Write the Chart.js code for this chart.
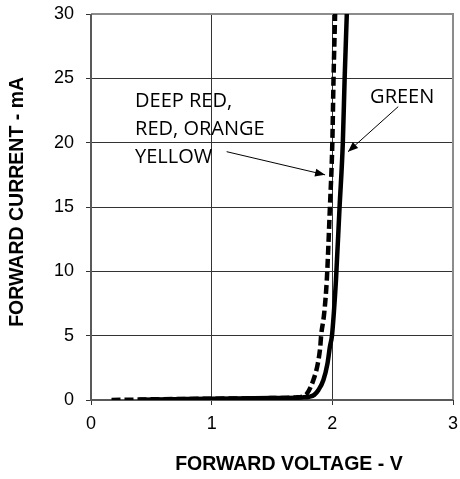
<!DOCTYPE html>
<html>
<head>
<meta charset="utf-8">
<script src="https://cdn.jsdelivr.net/npm/chart.js@4.4.1/dist/chart.umd.min.js"></script>
<style>
  html,body{margin:0;padding:0;background:#fff;}
  #wrap{width:460px;height:479px;position:relative;}
</style>
</head>
<body>
<div id="wrap"><canvas id="c" width="460" height="479"></canvas></div>
<script>
// Forward voltage (V) / forward current (mA)
const greenV = [0.4, 0.7, 1.0, 1.5, 1.75, 1.81, 1.85, 1.885, 1.926, 1.96, 1.98, 1.997, 2.012, 2.03, 2.06, 2.087, 2.102, 2.12];
const greenI = [0.02, 0.06, 0.1, 0.15, 0.2, 0.25, 0.4, 0.78, 1.55, 2.85, 4.14, 5.0, 6.7, 9.3, 15, 20, 25, 30];
const redV   = [0.17, 0.5, 1.0, 1.5, 1.7, 1.76, 1.79, 1.843, 1.88, 1.9, 1.907, 1.932, 1.954, 1.98, 2.0, 2.01, 2.023];
const redI   = [0.0, 0.05, 0.1, 0.15, 0.2, 0.3, 0.5, 1.55, 2.85, 4.14, 5.0, 6.7, 9.3, 15, 20, 25, 30];
const xTicks = [0, 1, 2, 3];
const yTicks = [0, 5, 10, 15, 20, 25, 30];
const xTitle = 'FORWARD VOLTAGE - V';
const yTitle = 'FORWARD CURRENT - mA';
const redLabel = ['DEEP RED,', 'RED, ORANGE', 'YELLOW'];
const greenLabel = ['GREEN'];

const toPts = (xs, ys) => xs.map((x, i) => ({x: x, y: ys[i]}));

const annotPlugin = {
  id: 'annot',
  afterDatasetsDraw(chart) {
    const ctx = chart.ctx;
    const xs = chart.scales.x, ys = chart.scales.y;
    const X = v => xs.getPixelForValue(v), Y = v => ys.getPixelForValue(v);
    ctx.save();
    ctx.fillStyle = '#000';
    ctx.font = '20px "Open Sans"';
    ctx.textBaseline = 'alphabetic';
    ctx.textAlign = 'left';
    redLabel.forEach((t, i) => ctx.fillText(t, X(0.365), Y(22.8) + i * 28));
    greenLabel.forEach((t, i) => ctx.fillText(t, X(2.313), Y(23.07) + i * 28));
    function arrow(x1, y1, x2, y2) {
      ctx.strokeStyle = '#000';
      ctx.lineWidth = 1;
      ctx.beginPath(); ctx.moveTo(x1, y1); ctx.lineTo(x2, y2); ctx.stroke();
      const a = Math.atan2(y2 - y1, x2 - x1), L = 10, w = 4;
      ctx.beginPath();
      ctx.moveTo(x2, y2);
      ctx.lineTo(x2 - L * Math.cos(a) + w * Math.sin(a), y2 - L * Math.sin(a) - w * Math.cos(a));
      ctx.lineTo(x2 - L * Math.cos(a) - w * Math.sin(a), y2 - L * Math.sin(a) + w * Math.cos(a));
      ctx.closePath(); ctx.fill();
    }
    arrow(X(1.124), Y(19.3), X(1.94), Y(17.5));
    arrow(X(2.546), Y(22.8), X(2.13), Y(19.3));
    // axis titles
    ctx.font = 'bold 19.5px "Liberation Sans", Arial, sans-serif';
    ctx.textAlign = 'center';
    ctx.textBaseline = 'middle';
    ctx.fillText(xTitle, X(1.64), chart.height - 14);
    ctx.translate(18, Y(15.4));
    ctx.rotate(-Math.PI / 2);
    ctx.fillText(yTitle, 0, 0);
    ctx.restore();
  },
  beforeDatasetsDraw(chart) {
    const ctx = chart.ctx, a = chart.chartArea;
    ctx.save();
    ctx.strokeStyle = '#8c8c8c';
    ctx.lineWidth = 2;
    ctx.beginPath();
    ctx.moveTo(a.left, a.top); ctx.lineTo(a.right, a.top); ctx.lineTo(a.right, a.bottom);
    ctx.stroke();
    ctx.strokeStyle = '#595959';
    ctx.beginPath();
    ctx.moveTo(a.left, a.top); ctx.lineTo(a.left, a.bottom); ctx.lineTo(a.right, a.bottom);
    ctx.stroke();
    ctx.restore();
  }
};

new Chart(document.getElementById('c'), {
  type: 'scatter',
  data: {
    datasets: [
      {data: toPts(greenV, greenI), showLine: true, borderColor: '#000', borderWidth: 4.5,
       pointRadius: 0, cubicInterpolationMode: 'monotone'},
      {data: toPts(redV, redI), showLine: true, borderColor: '#000', borderWidth: 4.5,
       borderDash: [9, 4], pointRadius: 0, cubicInterpolationMode: 'monotone'}
    ]
  },
  options: {
    responsive: false,
    animation: false,
    layout: {padding: {top: 14, right: 7, left: 0, bottom: 0}},
    plugins: {legend: {display: false}, tooltip: {enabled: false}},
    scales: {
      x: {
        type: 'linear', min: 0, max: 3,
        afterBuildTicks: s => { s.ticks = xTicks.map(v => ({value: v})); },
        afterFit: s => { s.height = 79; s.paddingLeft = 0; s.paddingRight = 0; },
        grid: {color: '#333', lineWidth: 1, tickLength: 5, drawTicks: true},
        border: {display: false},
        ticks: {color: '#000', font: {family: '"Liberation Sans", Arial, sans-serif', size: 18}, padding: 8, maxRotation: 0},
        title: {display: false}
      },
      y: {
        type: 'linear', min: 0, max: 30,
        afterBuildTicks: s => { s.ticks = yTicks.map(v => ({value: v})); },
        afterFit: s => { s.width = 91; s.paddingTop = 0; s.paddingBottom = 0; },
        grid: {color: '#333', lineWidth: 1, tickLength: 5},
        border: {display: false},
        ticks: {color: '#000', font: {family: '"Liberation Sans", Arial, sans-serif', size: 18}, padding: 12},
        title: {display: false}
      }
    }
  },
  plugins: [annotPlugin]
});
</script>
</body>
</html>
